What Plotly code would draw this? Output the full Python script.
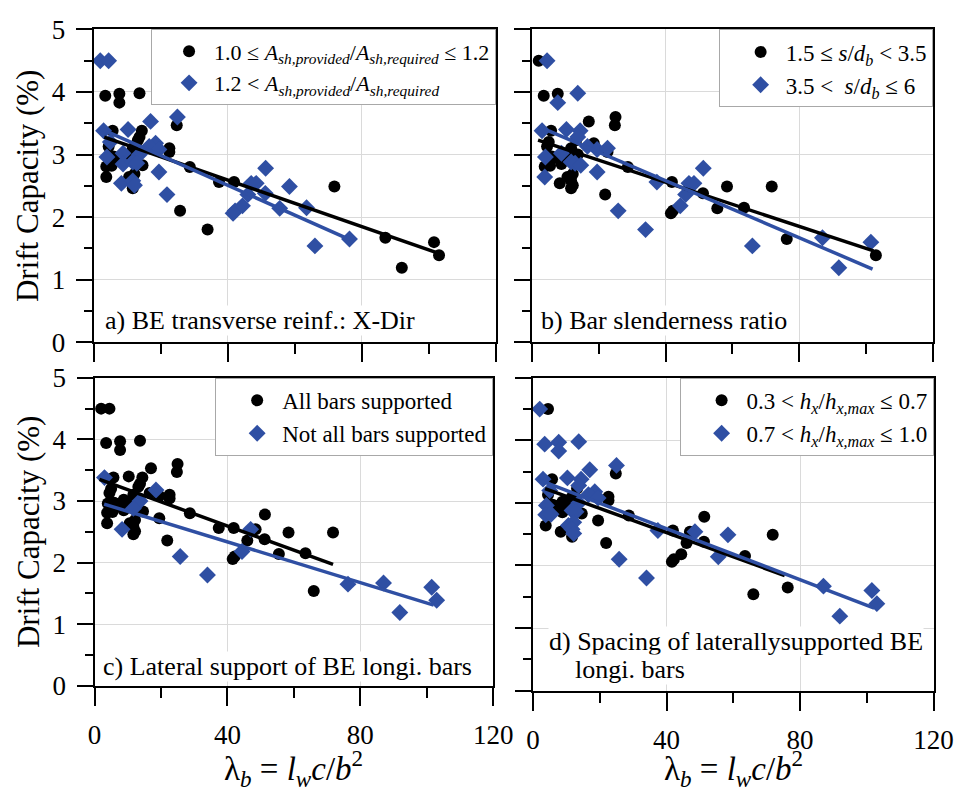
import plotly.graph_objects as go

# ---- data: slenderness parameter vs. drift capacity -------------------------
lam = [2.0, 4.5, 3.5, 7.7, 7.7, 13.7, 24.8, 25.0, 17.0, 10.3,
       3.0, 5.7, 14.4, 13.7, 13.2, 5.0, 4.5, 18.5, 16.6, 19.5,
       22.6, 22.6, 11.7, 4.0, 8.8, 13.7, 5.9, 6.9, 10.8, 8.8,
       11.7, 12.9, 3.8, 5.4, 14.6, 19.5, 3.8, 10.6, 12.2, 8.3,
       11.7, 12.2, 11.7, 21.9, 28.7, 25.8, 34.0, 37.4, 41.9, 41.6,
       42.2, 44.4, 46.0, 47.0, 48.5, 51.3, 51.2, 55.5, 58.4, 63.5,
       66.0, 71.8, 76.3, 87.0, 101.5, 103.0, 91.9]
drift = [4.50, 4.50, 3.94, 3.97, 3.83, 3.98, 3.47, 3.60, 3.53, 3.40,
         3.38, 3.38, 3.38, 3.28, 3.23, 3.20, 3.13, 3.18, 3.13, 3.08,
         3.10, 3.04, 3.10, 2.96, 3.02, 3.00, 2.97, 2.95, 2.95, 2.85,
         2.88, 2.86, 2.81, 2.82, 2.83, 2.72, 2.64, 2.64, 2.69, 2.54,
         2.58, 2.51, 2.46, 2.36, 2.80, 2.10, 1.80, 2.56, 2.56, 2.06,
         2.10, 2.18, 2.36, 2.54, 2.54, 2.78, 2.38, 2.14, 2.49, 2.15,
         1.54, 2.49, 1.65, 1.67, 1.60, 1.39, 1.19]

# group flags per panel: 0 = first category (circles), 1 = second (diamonds)
grp_a = [1, 1, 0, 0, 0, 0, 0, 1, 1, 1, 1, 0, 0, 0, 0, 1, 0, 1, 1, 1,
         0, 0, 0, 1, 1, 1, 0, 0, 0, 1, 1, 1, 0, 0, 0, 1, 0, 0, 0, 1,
         1, 1, 0, 1, 0, 0, 0, 0, 0, 1, 1, 1, 1, 1, 1, 1, 1, 1, 1, 1,
         1, 0, 1, 0, 0, 0, 0]
grp_b = [0, 1, 0, 0, 1, 1, 0, 0, 0, 1, 1, 0, 1, 1, 0, 0, 0, 0, 1, 1,
         1, 0, 0, 1, 1, 0, 0, 0, 0, 0, 1, 1, 0, 0, 1, 1, 1, 0, 0, 0,
         0, 0, 0, 0, 0, 1, 1, 1, 0, 0, 0, 1, 1, 1, 1, 1, 0, 0, 0, 0,
         1, 0, 0, 1, 1, 0, 1]
grp_c = [0, 0, 0, 0, 0, 0, 0, 0, 0, 0, 1, 0, 0, 0, 0, 0, 0, 1, 0, 0,
         0, 0, 0, 0, 0, 1, 0, 0, 0, 0, 1, 0, 0, 0, 0, 0, 0, 0, 0, 1,
         0, 0, 0, 0, 0, 1, 1, 0, 0, 0, 0, 1, 0, 1, 0, 0, 0, 0, 0, 0,
         0, 0, 1, 1, 1, 1, 1]
grp_d = [1, 0, 1, 1, 1, 1, 0, 1, 1, 1, 1, 0, 1, 1, 0, 1, 0, 1, 1, 1,
         0, 0, 0, 1, 0, 1, 0, 0, 0, 0, 1, 1, 1, 1, 0, 0, 0, 1, 1, 0,
         1, 1, 0, 0, 0, 1, 1, 1, 0, 0, 0, 0, 0, 0, 1, 0, 0, 1, 1, 0,
         0, 0, 0, 1, 1, 1, 1]

# linear trends of each group: [x_start, x_end] and [y_start, y_end]
fit_a0_x, fit_a0_y = [3.2, 104.0], [3.28, 1.40]
fit_a1_x, fit_a1_y = [2.2, 76.4], [3.41, 1.64]
fit_b0_x, fit_b0_y = [1.8, 102.3], [3.23, 1.46]
fit_b1_x, fit_b1_y = [5.0, 102.0], [3.38, 1.17]
fit_c0_x, fit_c0_y = [1.5, 71.8], [3.35, 1.97]
fit_c1_x, fit_c1_y = [2.9, 102.1], [2.95, 1.31]
fit_d0_x, fit_d0_y = [3.6, 75.4], [3.23, 1.84]
fit_d1_x, fit_d1_y = [2.1, 102.2], [3.36, 1.32]

labels_a = ["1.0 ≤ <i>A</i><sub><i>sh,provided</i></sub>/<i>A</i><sub><i>sh,required</i></sub> ≤ 1.2",
            "1.2 &lt; <i>A</i><sub><i>sh,provided</i></sub>/<i>A</i><sub><i>sh,required</i></sub>"]
labels_b = ["1.5 ≤ <i>s</i>/<i>d</i><sub><i>b</i></sub> &lt; 3.5",
            "3.5 &lt;  <i>s</i>/<i>d</i><sub><i>b</i></sub> ≤ 6"]
labels_c = ["All bars supported", "Not all bars supported"]
labels_d = ["0.3 &lt; <i>h</i><sub><i>x</i></sub>/<i>h</i><sub><i>x,max</i></sub> ≤ 0.7",
            "0.7 &lt; <i>h</i><sub><i>x</i></sub>/<i>h</i><sub><i>x,max</i></sub> ≤ 1.0"]

titles = ["a) BE transverse reinf.: X-Dir", "b) Bar slenderness ratio",
          "c) Lateral support of BE longi. bars",
          "d) Spacing of laterallysupported BE", "longi. bars"]

x_title = "λ<sub><i>b</i></sub> = <i>l</i><sub><i>w</i></sub><i>c</i>/<i>b</i><sup>2</sup>"
y_title = "Drift Capacity (%)"

# ---- styling ---------------------------------------------------------------
FONT = "Liberation Serif, Times New Roman, Times, serif"
BLACK = "#000000"
BLUE = "#2f4fa3"
W, H = 975, 798

fig = go.Figure()

panels = [
    ("x", "y", "legend", grp_a, labels_a, (fit_a0_x, fit_a0_y), (fit_a1_x, fit_a1_y)),
    ("x2", "y2", "legend2", grp_b, labels_b, (fit_b0_x, fit_b0_y), (fit_b1_x, fit_b1_y)),
    ("x3", "y3", "legend3", grp_c, labels_c, (fit_c0_x, fit_c0_y), (fit_c1_x, fit_c1_y)),
    ("x4", "y4", "legend4", grp_d, labels_d, (fit_d0_x, fit_d0_y), (fit_d1_x, fit_d1_y)),
]

for xa, ya, leg, grp, labs, fit0, fit1 in panels:
    x0 = [v for v, g in zip(lam, grp) if g == 0]
    y0 = [v for v, g in zip(drift, grp) if g == 0]
    x1 = [v for v, g in zip(lam, grp) if g == 1]
    y1 = [v for v, g in zip(drift, grp) if g == 1]
    fig.add_trace(go.Scatter(x=x0, y=y0, mode="markers", name=labs[0],
                             marker=dict(symbol="circle", size=12, color=BLACK),
                             xaxis=xa, yaxis=ya, legend=leg, legendgroup=leg + "k"))
    fig.add_trace(go.Scatter(x=x1, y=y1, mode="markers", name=labs[1],
                             marker=dict(symbol="diamond", size=13, color=BLUE),
                             xaxis=xa, yaxis=ya, legend=leg, legendgroup=leg + "b"))
    fig.add_trace(go.Scatter(x=fit0[0], y=fit0[1], mode="lines", showlegend=False,
                             line=dict(color=BLACK, width=3.5), xaxis=xa, yaxis=ya))
    fig.add_trace(go.Scatter(x=fit1[0], y=fit1[1], mode="lines", showlegend=False,
                             line=dict(color=BLUE, width=3.5), xaxis=xa, yaxis=ya))

# panel frames in pixels: left, right, top, bottom
boxes = {
    "a": (89, 503, 15, 340),
    "b": (540, 952, 15, 340),
    "c": (90, 500, 377, 697),
    "d": (541, 953, 377, 702),
}


def xdom(b):
    return [b[0] / W, b[1] / W]


def ydom(b):
    return [1 - b[3] / H, 1 - b[2] / H]


tickfont = dict(family=FONT, size=27, color="black")

xbase = dict(range=[0, 120], tick0=0, dtick=40, ticks="outside", ticklen=18,
             tickwidth=2, tickcolor="black", showline=True, linewidth=2,
             linecolor="black", mirror=True, showgrid=True, gridcolor="#dadada",
             gridwidth=1, zeroline=False, tickfont=tickfont, ticklabelstandoff=6,
             minor=dict(dtick=20, ticks="outside", ticklen=10, tickwidth=2,
                        tickcolor="black", showgrid=False))
ybase = dict(range=[0, 5], tick0=0, dtick=1, ticks="outside", ticklen=16,
             tickwidth=2, tickcolor="black", showline=True, linewidth=2,
             linecolor="black", mirror=True, showgrid=True, gridcolor="#dadada",
             gridwidth=1, zeroline=False, tickfont=tickfont, ticklabelstandoff=5,
             minor=dict(dtick=0.5, ticks="outside", ticklen=8, tickwidth=2,
                        tickcolor="black", showgrid=False))

ytitle = dict(text=y_title, font=dict(family=FONT, size=31, color="black"),
              standoff=4)

fig.update_layout(
    xaxis=dict(xbase, domain=xdom(boxes["a"]), anchor="y", showticklabels=False),
    yaxis=dict(ybase, domain=ydom(boxes["a"]), anchor="x", title=ytitle),
    xaxis2=dict(xbase, domain=xdom(boxes["b"]), anchor="y2", showticklabels=False),
    yaxis2=dict(ybase, domain=ydom(boxes["b"]), anchor="x2", showticklabels=False),
    xaxis3=dict(xbase, domain=xdom(boxes["c"]), anchor="y3"),
    yaxis3=dict(ybase, domain=ydom(boxes["c"]), anchor="x3", title=ytitle),
    xaxis4=dict(xbase, domain=xdom(boxes["d"]), anchor="y4"),
    yaxis4=dict(ybase, domain=ydom(boxes["d"]), anchor="x4", showticklabels=False),
)

# x-axis titles below the bottom row, centred on each panel
for key in ("c", "d"):
    b = boxes[key]
    fig.add_annotation(x=(b[0] + b[1]) / 2 / W, y=1 - 756 / H, xref="paper",
                       yref="paper", text=x_title, showarrow=False,
                       xanchor="center", yanchor="top",
                       font=dict(family=FONT, size=33, color="black"))


def legend_cfg(key, size=23, indent=16):
    b = boxes[key]
    return dict(x=b[1] / W, y=1 - b[2] / H, xanchor="right", yanchor="top",
                bgcolor="white", bordercolor="#a8a8a8", borderwidth=1,
                font=dict(family=FONT, size=size, color="black"),
                itemwidth=40, indentation=indent, tracegroupgap=0,
                itemsizing="trace")


fig.update_layout(legend=legend_cfg("a", size=22, indent=12),
                  legend2=legend_cfg("b"),
                  legend3=legend_cfg("c"), legend4=legend_cfg("d"))

# panel captions inside the lower-left corner of each plot
caption_font = dict(family=FONT, size=26, color="black")
captions = [("x", "y", 3.2, 0.34, titles[0]),
            ("x2", "y2", 2.3, 0.35, titles[1]),
            ("x3", "y3", 2.3, 0.31, titles[2]),
            ("x4", "y4", 4.4, 0.78, titles[3]),
            ("x4", "y4", 12.2, 0.33, titles[4])]
for xr, yr, xv, yv, txt in captions:
    fig.add_annotation(x=xv, y=yv, xref=xr, yref=yr, text=txt, showarrow=False,
                       xanchor="left", yanchor="middle", font=caption_font,
                       bgcolor="white", borderpad=0)

fig.update_layout(width=W, height=H, margin=dict(l=0, r=0, t=0, b=0),
                  paper_bgcolor="white", plot_bgcolor="white",
                  font=dict(family=FONT, color="black"))

fig.write_html("out.html")
